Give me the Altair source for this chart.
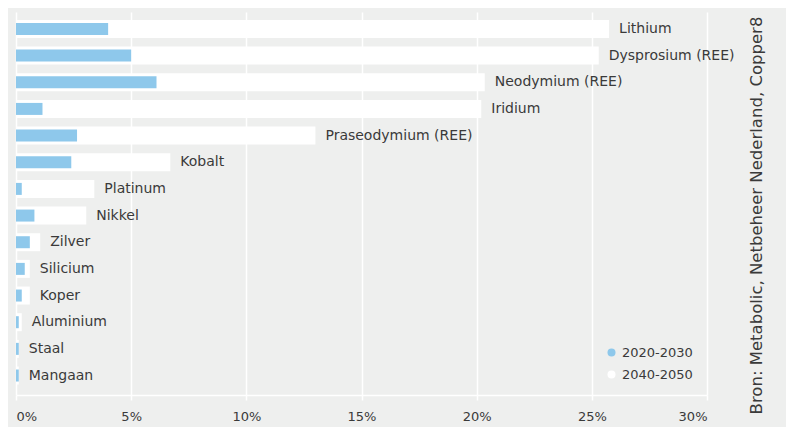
import altair as alt
import pandas as pd

materials = ["Lithium", "Dysprosium (REE)", "Neodymium (REE)", "Iridium",
             "Praseodymium (REE)", "Kobalt", "Platinum", "Nikkel", "Zilver",
             "Silicium", "Koper", "Aluminium", "Staal", "Mangaan"]
share_2020_2030 = [4.0, 5.0, 6.1, 1.15, 2.65, 2.4, 0.25, 0.8, 0.6, 0.38, 0.25, 0.12, 0.12, 0.12]
share_2040_2050 = [25.75, 25.3, 20.35, 20.2, 13.0, 6.7, 3.4, 3.05, 1.05, 0.6, 0.6, 0.25, 0.12, 0.12]
series = ["2020-2030", "2040-2050"]
x_ticks = [0, 0.05, 0.10, 0.15, 0.20, 0.25, 0.30]
source = "Bron: Metabolic, Netbeheer Nederland, Copper8"

BLUE = "#8EC8EB"
WHITE = "#FFFFFF"
BG = "#EEEFEE"
TXT = "#3a3a3a"
FONT = "DejaVu Sans"

df = pd.DataFrame({
    "material": materials,
    "a": [v / 100 for v in share_2020_2030],
    "b": [v / 100 for v in share_2040_2050],
})
df["lab"] = df[["a", "b"]].max(axis=1)
df["sa"] = series[0]
df["sb"] = series[1]

yenc = alt.Y("material:N", sort=materials, axis=None,
             scale=alt.Scale(paddingInner=0, paddingOuter=0.183, align=0.37))
xscale = alt.Scale(domain=[0, 0.3], nice=False)
color_scale = alt.Scale(domain=series, range=[BLUE, WHITE])

white = alt.Chart(df).mark_bar(size=18).encode(
    x=alt.X("b:Q", scale=xscale,
            axis=alt.Axis(values=x_ticks, format=".0%", grid=True, gridColor="white",
                          gridWidth=1.5, domainColor="white", domainWidth=1.5,
                          tickColor="white", tickSize=5, tickWidth=1.5,
                          labelFont=FONT, labelFontSize=13, labelColor=TXT,
                          labelPadding=10, title=None)),
    y=yenc,
    color=alt.Color("sb:N", scale=color_scale,
                    legend=alt.Legend(title=None, orient="none", legendX=589, legendY=334,
                                      symbolType="circle", symbolSize=64,
                                      symbolStrokeWidth=0, labelFont=FONT,
                                      labelFontSize=13, labelColor=TXT,
                                      labelOffset=4, rowPadding=8, padding=0)),
)

blue = alt.Chart(df).mark_bar(size=12).encode(
    x="a:Q",
    y=yenc,
    color=alt.Color("sa:N", scale=color_scale),
)

labels = alt.Chart(df).mark_text(align="left", baseline="middle", dx=10,
                                 font=FONT, fontSize=14, color=TXT).encode(
    x="lab:Q",
    y=yenc,
    text="material:N",
)

chart = alt.layer(white, blue, labels).properties(
    width=691, height=383,
    background=BG,
    autosize=alt.AutoSizeParams(type="none"),
    padding={"left": 8, "top": 4, "right": 79, "bottom": 32},
    title=alt.TitleParams(text=source, orient="right", angle=270, anchor="middle",
                          font=FONT, fontSize=16.5, fontWeight="normal", color=TXT,
                          offset=-2, dx=-12),
).configure_view(stroke=None)

chart.save("out.html", embed_options={"renderer": "svg", "actions": False})
